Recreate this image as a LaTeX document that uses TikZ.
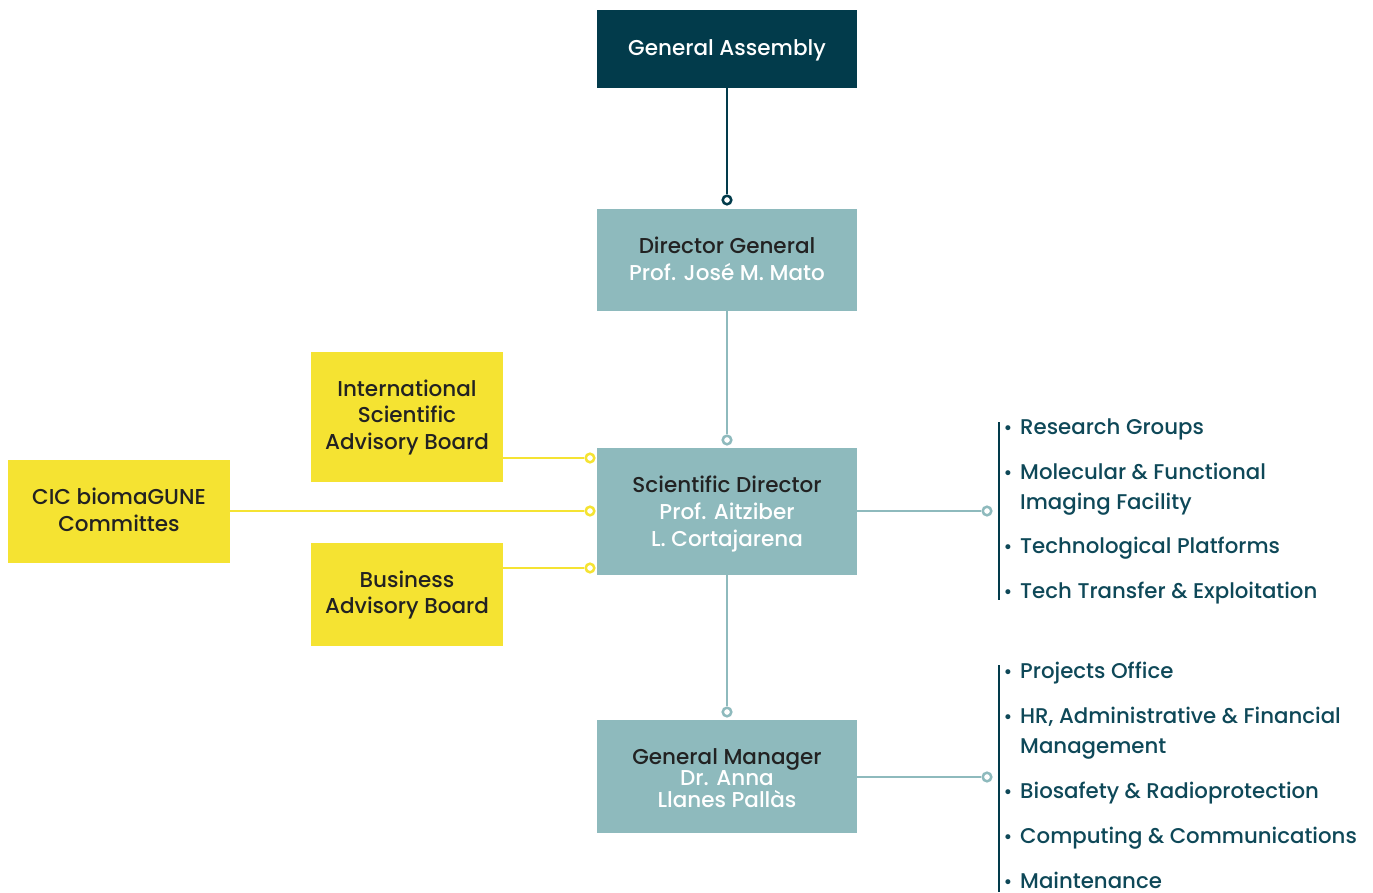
\documentclass[tikz,border=0pt]{standalone}
\usepackage{fontspec}
\setmainfont{Poppins}[UprightFont=* Medium]
\begin{document}
\definecolor{navy}{HTML}{023B4B}
\definecolor{sea}{HTML}{8EBABD}
\definecolor{sun}{HTML}{F5E332}
\definecolor{ink}{HTML}{222222}
\definecolor{listink}{HTML}{0E4858}
\begin{tikzpicture}[x=1pt,y=-1pt,
  box/.style={rectangle, inner sep=0pt, outer sep=0pt},
  darkbox/.style={box, fill=navy},
  tealbox/.style={box, fill=sea},
  sunbox/.style={box, fill=sun},
  boxtext/.style={anchor=base, inner sep=0pt, align=center, text=ink,
    font=\fontsize{21.5}{27}\selectfont},
  pin/.style={circle, draw, fill=white, line width=2.5pt, minimum size=8.6pt, inner sep=0pt},
  darkline/.style={draw=navy, line width=2.2pt},
  tealline/.style={draw=sea, line width=2.4pt},
  sunline/.style={draw=sun, line width=2.8pt},
  bar/.style={draw=navy, line width=1.6pt},
  item/.style={anchor=base west, inner sep=0pt, align=left, text=listink,
    font=\fontsize{21.3}{30}\selectfont},
  dotmark/.style={anchor=base, inner sep=0pt, text=listink, font=\fontsize{19}{19}\selectfont}
]
\useasboundingbox (0,0) rectangle (1373,892);

% boxes
\node[darkbox, minimum width=260pt, minimum height=78pt] (ga) at (727,49) {};
\node[tealbox, minimum width=260pt, minimum height=102pt] (dg) at (727,260) {};
\node[tealbox, minimum width=260pt, minimum height=127pt] (sd) at (727,511.5) {};
\node[tealbox, minimum width=260pt, minimum height=113pt] (gm) at (727,776.5) {};
\node[sunbox, minimum width=192pt, minimum height=130pt] (isab) at (407,417) {};
\node[sunbox, minimum width=222pt, minimum height=103pt] (cic) at (119,511.5) {};
\node[sunbox, minimum width=192pt, minimum height=103pt] (bab) at (407,594.5) {};

% box texts (anchored at the baseline of the last line)
\node[boxtext, text=white] (gat) at (727,55) {General Assembly};
\node[boxtext] (dgt) at (727,280)
  {Director General\\\textcolor{white}{Prof. José M. Mato}};
\node[boxtext] (sdt) at (727,546)
  {Scientific Director\\\textcolor{white}{Prof. Aitziber}\\\textcolor{white}{L. Cortajarena}};
\node[boxtext, font=\fontsize{21.5}{21.5}\selectfont] (gmt) at (727,807)
  {General Manager\\\textcolor{white}{Dr. Anna}\\\textcolor{white}{Llanes Pallàs}};
\node[boxtext, font=\fontsize{21.5}{26.5}\selectfont] (isabt) at (407,449)
  {International\\Scientific\\Advisory Board};
\node[boxtext] (cict) at (119,531) {CIC biomaGUNE\\Committes};
\node[boxtext, font=\fontsize{21.5}{26}\selectfont] (babt) at (407,613)
  {Business\\Advisory Board};

% connector end pins
\node[pin, draw=navy] (p1) at (727,200) {};
\node[pin, draw=sea] (p2) at (727,440) {};
\node[pin, draw=sea] (p3) at (727,712) {};
\node[pin, draw=sun] (p4) at (590,458) {};
\node[pin, draw=sun] (p5) at (590,511) {};
\node[pin, draw=sun] (p6) at (590,568) {};
\node[pin, draw=sea] (p7) at (987,511) {};
\node[pin, draw=sea] (p8) at (987,777) {};

% connectors
\draw[darkline] (ga.south) -- (p1.north);
\draw[tealline] (dg.south) -- (p2.north);
\draw[tealline] (sd.south) -- (p3.north);
\draw[sunline] (isab.east |- p4) -- (p4.west);
\draw[sunline] (cic.east |- p5) -- (p5.west);
\draw[sunline] (bab.east |- p6) -- (p6.west);
\draw[tealline] (sd.east |- p7) -- (p7.west);
\draw[tealline] (gm.east |- p8) -- (p8.west);

% brackets of the two lists
\coordinate (b1t) at (999,422);
\coordinate (b1b) at (999,600);
\coordinate (b2t) at (999,665);
\coordinate (b2b) at (999,892);
\draw[bar] (b1t) -- (b1b);
\draw[bar] (b2t) -- (b2b);

% research list: bullet baseline / baseline of last line / text
\foreach \d/\y/\t [count=\i] in {
  434/434/Research Groups,
  479/509/{Molecular \& Functional\\Imaging Facility},
  553/553/Technological Platforms,
  598/598/Tech Transfer \& Exploitation}{
  \node[dotmark] (ra\i) at (1008,\d) {•};
  \node[item] (ri\i) at (1020,\y) {\t};
}

% management list
\foreach \d/\y/\t [count=\i] in {
  678/678/Projects Office,
  723/753/{HR, Administrative \& Financial\\Management},
  798/798/Biosafety \& Radioprotection,
  843/843/Computing \& Communications,
  888/888/Maintenance}{
  \node[dotmark] (ma\i) at (1008,\d) {•};
  \node[item] (mi\i) at (1020,\y) {\t};
}
\end{tikzpicture}
\end{document}
